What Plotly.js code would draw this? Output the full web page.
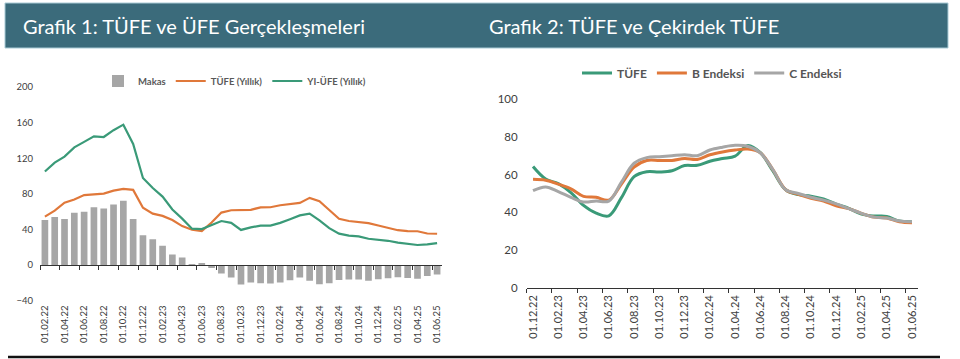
<!DOCTYPE html>
<html><head><meta charset="utf-8">
<script src="https://cdn.plot.ly/plotly-3.0.1.min.js"></script>
<style>html,body{margin:0;padding:0;background:#fff;}#chart{width:960px;height:359px;}</style>
</head><body><div id="chart"></div>
<script>
// ---- Chart 1 data ----
const leftDates = ["01.02.22","01.03.22","01.04.22","01.05.22","01.06.22","01.07.22","01.08.22","01.09.22","01.10.22","01.11.22","01.12.22",
"01.01.23","01.02.23","01.03.23","01.04.23","01.05.23","01.06.23","01.07.23","01.08.23","01.09.23","01.10.23","01.11.23","01.12.23",
"01.01.24","01.02.24","01.03.24","01.04.24","01.05.24","01.06.24","01.07.24","01.08.24","01.09.24","01.10.24","01.11.24","01.12.24",
"01.01.25","01.02.25","01.03.25","01.04.25","01.05.25","01.06.25"];
const makas = [50.6,53.9,51.8,58.7,59.7,65.0,63.6,68.0,72.2,51.6,33.4,28.8,21.7,11.9,8.4,1.2,2.2,-3.3,-9.5,-14.1,-22.0,-19.7,-20.6,
-20.7,-19.8,-17.0,-14.1,-17.7,-21.5,-20.4,-16.8,-16.3,-16.4,-17.6,-15.9,-14.9,-13.9,-14.6,-15.4,-12.3,-10.6];
const tufeYillik = [54.4,61.1,70.0,73.5,78.6,79.6,80.2,83.5,85.5,84.4,64.3,57.7,55.2,50.5,43.7,39.6,38.2,47.8,58.9,61.5,61.4,62.0,64.8,
64.9,67.1,68.5,69.8,75.4,71.6,61.8,52.0,49.4,48.6,47.1,44.4,42.1,39.1,38.1,37.9,35.4,35.1];
const ufeYillik = [105.0,115.0,121.8,132.2,138.3,144.6,143.8,151.5,157.7,136.0,97.7,86.5,76.9,62.4,52.1,40.8,40.4,44.5,49.4,47.4,39.4,42.3,44.2,
44.2,47.3,51.5,55.7,57.7,50.1,41.4,35.2,33.1,32.2,29.5,28.5,27.2,25.2,23.5,22.5,23.1,24.5];
const leftYTicks = [-40,0,40,80,120,160,200];

// ---- Chart 2 data ----
const rightDates = ["01.12.22","01.01.23","01.02.23","01.03.23","01.04.23","01.05.23","01.06.23","01.07.23","01.08.23","01.09.23","01.10.23","01.11.23","01.12.23",
"01.01.24","01.02.24","01.03.24","01.04.24","01.05.24","01.06.24","01.07.24","01.08.24","01.09.24","01.10.24","01.11.24","01.12.24",
"01.01.25","01.02.25","01.03.25","01.04.25","01.05.25","01.06.25"];
const tufe = [64.3,57.7,55.2,50.5,43.7,39.6,38.2,47.8,58.9,61.5,61.4,62.0,64.8,64.9,67.1,68.5,69.8,75.4,71.6,61.8,52.0,49.4,48.6,47.1,44.4,42.1,39.1,38.1,37.9,35.4,35.1];
const bEndeksi = [57.5,57.0,55.0,52.5,48.5,48.0,46.5,55.0,64.0,67.5,67.5,67.5,68.5,68.0,70.5,72.0,73.0,73.5,71.5,62.5,52.0,49.5,47.5,46.0,43.5,42.0,39.5,37.5,37.0,35.0,34.5];
const cEndeksi = [51.5,53.5,51.0,48.0,45.5,46.0,46.0,56.0,66.0,69.0,69.5,70.0,70.5,70.0,73.0,74.5,75.5,75.0,71.5,62.5,52.0,50.0,48.0,46.5,44.5,42.0,39.5,37.5,37.0,35.5,35.0];
const rightYTicks = [0,20,40,60,80,100];

const titles = ["Grafik 1: TÜFE ve ÜFE Gerçekleşmeleri","Grafik 2: TÜFE ve Çekirdek TÜFE"];

// ---- colours ----
const cGreen = "#3a9a78", cOrange = "#e0783a", cGrey = "#a6a6a6", cHead = "#3b6b7b", cText = "#404040";
const FONT = "Lato, 'Open Sans', sans-serif";

const li = leftDates.map((d,i)=>i);
const ri = rightDates.map((d,i)=>i);
const evenIdx = (arr)=>arr.map((d,i)=>i).filter(i=>i%2===0);
const boundIdx = (arr)=>arr.map((d,i)=>i-0.5).filter((v,i)=>i%2===0);

const traces = [
 {type:"bar", x:li, y:makas, name:"Makas", marker:{color:cGrey}, xaxis:"x", yaxis:"y", legend:"legend", hoverinfo:"skip"},
 {type:"scatter", mode:"lines", x:li, y:tufeYillik, name:"TÜFE (Yıllık)", line:{color:cOrange,width:2.2}, xaxis:"x", yaxis:"y", legend:"legend"},
 {type:"scatter", mode:"lines", x:li, y:ufeYillik, name:"YI-ÜFE (Yıllık)", line:{color:cGreen,width:2.2}, xaxis:"x", yaxis:"y", legend:"legend"},
 {type:"scatter", mode:"lines", x:li, y:tufeYillik, showlegend:false, line:{color:"rgba(0,0,0,0)",width:0}, xaxis:"x2", yaxis:"y", hoverinfo:"skip"},
 {type:"scatter", mode:"lines", x:ri, y:tufe, name:"TÜFE", line:{color:cGreen,width:3,shape:"spline"}, xaxis:"x3", yaxis:"y2", legend:"legend2"},
 {type:"scatter", mode:"lines", x:ri, y:bEndeksi, name:"B Endeksi", line:{color:cOrange,width:3,shape:"spline"}, xaxis:"x3", yaxis:"y2", legend:"legend2"},
 {type:"scatter", mode:"lines", x:ri, y:cEndeksi, name:"C Endeksi", line:{color:cGrey,width:3,shape:"spline"}, xaxis:"x3", yaxis:"y2", legend:"legend2"},
 {type:"scatter", mode:"lines", x:ri, y:tufe, showlegend:false, line:{color:"rgba(0,0,0,0)",width:0}, xaxis:"x4", yaxis:"y2", hoverinfo:"skip"}
];

const H = 359, W = 960;
const py = (px)=>1-px/H, pxx=(px)=>px/W;
const lDom = [py(300.6), py(87)];
const rDom = [py(288), py(99)];
const zeroPos = lDom[0] + (lDom[1]-lDom[0])*(40/240);

const layout = {
 width:W, height:H, margin:{l:0,r:0,t:0,b:0}, paper_bgcolor:"#fff", plot_bgcolor:"rgba(0,0,0,0)",
 font:{family:FONT, color:cText}, bargap:0.32, showlegend:true,
 xaxis:{domain:[pxx(40),pxx(442)], anchor:"y", range:[-0.5,40.5], tickvals:evenIdx(leftDates), ticktext:leftDates.filter((d,i)=>i%2===0),
   tickangle:-90, ticks:"", showline:false, showgrid:false, zeroline:false, tickfont:{size:9.5,color:cText}, ticklabelstandoff:2},
 xaxis2:{overlaying:"x", anchor:"free", position:zeroPos, range:[-0.5,40.5], tickvals:boundIdx(leftDates), showticklabels:false,
   ticks:"outside", ticklen:4, tickcolor:"#333", showline:true, linecolor:"#333", linewidth:1.3, showgrid:false, zeroline:false},
 yaxis:{domain:lDom, anchor:"x", range:[-40,200], tickvals:leftYTicks, showgrid:false, zeroline:false, showline:false, ticks:"",
   tickfont:{size:9.5,color:cText}, ticklabelstandoff:6},
 xaxis3:{domain:[pxx(526.7),pxx(918.3)], anchor:"y2", range:[-0.5,30.5], tickvals:evenIdx(rightDates), ticktext:rightDates.filter((d,i)=>i%2===0),
   tickangle:-90, ticks:"", showline:false, showgrid:false, zeroline:false, tickfont:{size:11,color:cText}, ticklabelstandoff:4},
 xaxis4:{overlaying:"x3", anchor:"y2", range:[-0.5,30.5], tickvals:boundIdx(rightDates), showticklabels:false,
   ticks:"outside", ticklen:4, tickcolor:"#333", showline:true, linecolor:"#333", linewidth:1.3, showgrid:false, zeroline:false},
 yaxis2:{domain:rDom, anchor:"x3", range:[0,100], tickvals:rightYTicks, showgrid:false, zeroline:false, showline:false, ticks:"",
   tickfont:{size:11.5,color:cText}, ticklabelstandoff:8},
 legend:{orientation:"h", x:pxx(235), xanchor:"center", y:py(81), yanchor:"middle", font:{size:9.5,color:"#595959",family:FONT, weight:"bold"},
   itemwidth:30, tracegroupgap:0, bgcolor:"rgba(0,0,0,0)"},
 legend2:{orientation:"h", x:pxx(712), xanchor:"center", y:py(73), yanchor:"middle", font:{size:12,color:"#555",family:FONT, weight:"bold"},
   itemwidth:30, bgcolor:"rgba(0,0,0,0)"},
 shapes:[
  {type:"rect", xref:"paper", yref:"paper", x0:pxx(5), x1:pxx(948), y0:py(48), y1:py(3), fillcolor:cHead, line:{color:"#a9cbd6",width:1}, layer:"below"},
  {type:"line", xref:"paper", yref:"paper", x0:pxx(8), x1:pxx(940), y0:py(357), y1:py(357), line:{color:"#111",width:2.5}}
 ],
 annotations:[
  {text:titles[0], xref:"paper", yref:"paper", x:pxx(21), y:py(25.5), xanchor:"left", yanchor:"middle", showarrow:false,
   font:{size:20,color:"#fff",family:FONT, weight:"normal"}},
  {text:titles[1], xref:"paper", yref:"paper", x:pxx(487), y:py(25.5), xanchor:"left", yanchor:"middle", showarrow:false,
   font:{size:20,color:"#fff",family:FONT, weight:"normal"}}
 ]
};
Plotly.newPlot("chart", traces, layout, {staticPlot:true, displayModeBar:false});
</script></body></html>
